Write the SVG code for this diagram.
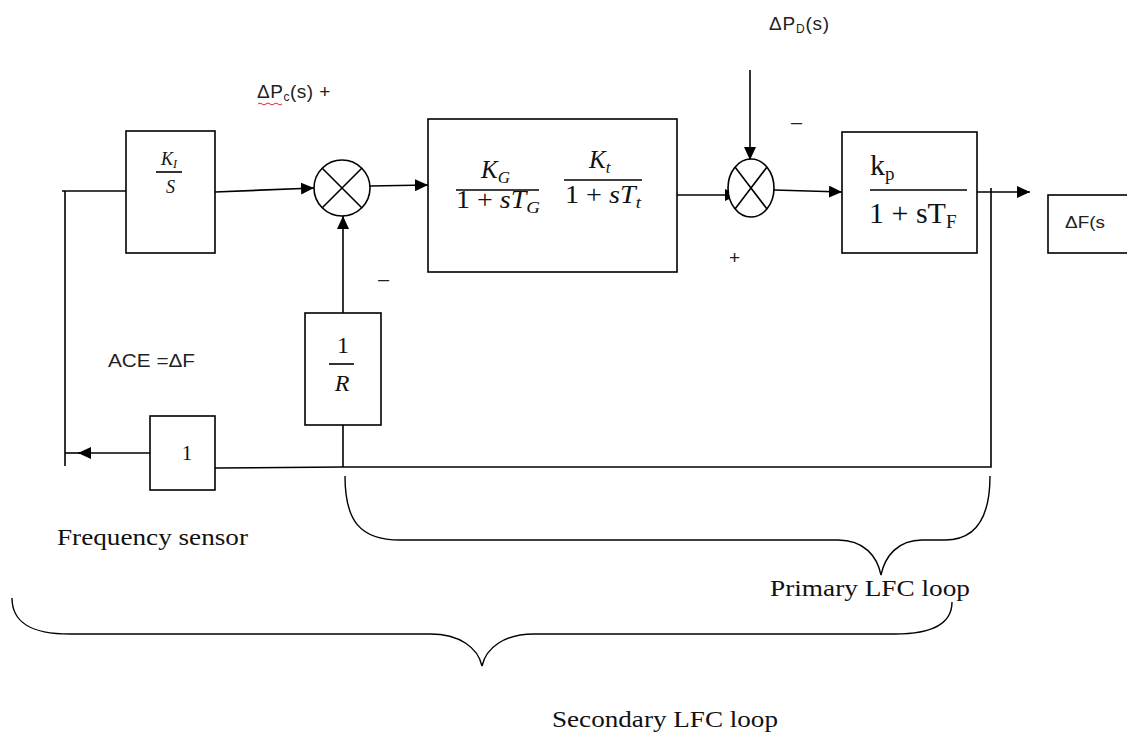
<svg xmlns="http://www.w3.org/2000/svg" width="1127" height="736" viewBox="0 0 1127 736">
<defs>
<marker id="arr" markerUnits="userSpaceOnUse" markerWidth="14" markerHeight="12" refX="13" refY="6" orient="auto">
<path d="M0,0 L13,6 L0,12 z" fill="#000"/>
</marker>
<style>
.box{fill:#fff;stroke:#000;stroke-width:1.6}
.ln{fill:none;stroke:#000;stroke-width:1.6}
.arr{fill:none;stroke:#000;stroke-width:1.6;marker-end:url(#arr)}
.brace{fill:none;stroke:#000;stroke-width:1.4}
.sans{font-family:"Liberation Sans","Open Sans",sans-serif;fill:#222}
.serif{font-family:"Liberation Serif","DejaVu Serif",serif;fill:#111}
.math{font-family:"Liberation Serif","DejaVu Serif",serif;fill:#111;font-style:italic}
</style>
</defs>
<rect width="1127" height="736" fill="#fff"/>

<g id="connectors">
<path class="ln" d="M62,191 L126,191"/>
<path class="ln" d="M65,191 L65,466"/>
<path class="arr" d="M215,192 L314,188"/>
<path class="arr" d="M343,313 L343,216"/>
<path class="arr" d="M370,186 L428,185"/>
<path class="arr" d="M677,195 L738,195"/>
<path class="arr" d="M750,70 L750,160"/>
<path class="arr" d="M774,190 L842,192"/>
<path class="arr" d="M977,192 L1030,192"/>
<path class="ln" d="M991,188 L991,467 L343,467 L215,468"/>
<path class="ln" d="M343,425 L343,467"/>
<path class="arr" d="M150,453 L78,453"/>
<path class="ln" d="M80,453 L65,453"/>
</g>

<g id="ki">
<rect class="box" x="126" y="131" width="89" height="122"/>
<text class="math" x="161" y="165" font-size="18">K<tspan font-size="12" dy="3">I</tspan></text>
<path class="ln" d="M156,172 L182,172" stroke-width="1.3"/>
<text class="math" x="166" y="193" font-size="18">S</text>
</g>

<g id="sum1">
<circle class="box" cx="342" cy="188" r="28"/>
<path class="ln" d="M322,168 L362,208 M362,168 L322,208" stroke-width="1.3"/>
</g>

<g id="gov">
<rect class="box" x="428" y="119" width="249" height="153"/>
<text class="math" x="481" y="178" font-size="25">K<tspan font-size="17" dy="5">G</tspan></text>
<path class="ln" d="M456,190 L539,190" stroke-width="1.4"/>
<text class="math" x="456" y="208" font-size="25" textLength="84" lengthAdjust="spacingAndGlyphs"><tspan font-style="normal">1 + </tspan>sT<tspan font-size="17" dy="5">G</tspan></text>
<text class="math" x="589" y="168" font-size="25">K<tspan font-size="17" dy="5">t</tspan></text>
<path class="ln" d="M564,180 L642,180" stroke-width="1.4"/>
<text class="math" x="565" y="203" font-size="25" textLength="76" lengthAdjust="spacingAndGlyphs"><tspan font-style="normal">1 + </tspan>sT<tspan font-size="17" dy="5">t</tspan></text>
</g>

<g id="sum2">
<ellipse class="box" cx="751" cy="188" rx="23" ry="29"/>
<path class="ln" d="M735,167 L767,209 M767,167 L735,209" stroke-width="1.3"/>
</g>

<g id="plant">
<rect class="box" x="842" y="132" width="135" height="121"/>
<text class="serif" x="870" y="175" font-size="30">k<tspan font-size="19" dy="5">p</tspan></text>
<path class="ln" d="M870,190 L967,190" stroke-width="1.4"/>
<text class="serif" x="869" y="223" font-size="30">1 + sT<tspan font-size="19" dy="5">F</tspan></text>
</g>

<g id="out">
<rect class="box" x="1048" y="195" width="82" height="58"/>
<text class="sans" x="1065" y="228" font-size="17" textLength="40" lengthAdjust="spacingAndGlyphs">ΔF(s</text>
</g>

<g id="invr">
<rect class="box" x="305" y="313" width="76" height="112"/>
<text class="serif" x="343" y="353" font-size="24" text-anchor="middle">1</text>
<path class="ln" d="M329,364 L354,364" stroke-width="1.3"/>
<text class="math" x="342" y="391" font-size="24" text-anchor="middle">R</text>
</g>

<g id="sensor">
<rect class="box" x="150" y="416" width="65" height="74"/>
<text class="serif" x="187" y="460" font-size="21" text-anchor="middle">1</text>
</g>

<g id="labels">
<text class="sans" x="257" y="98" font-size="19" letter-spacing="0.5">ΔP<tspan font-size="12" dy="3">c</tspan><tspan dy="-3">(s)  +</tspan></text>
<path d="M258,104 q2,-2 4,0 t4,0 t4,0 t4,0 t4,0 t4,0" fill="none" stroke="#d23" stroke-width="1"/>
<text class="sans" x="769" y="30" font-size="19" letter-spacing="0.8">ΔP<tspan font-size="12" dy="3">D</tspan><tspan dy="-3">(s)</tspan></text>
<text class="sans" x="108" y="367" font-size="18" textLength="87" lengthAdjust="spacingAndGlyphs">ACE =ΔF</text>
<text class="sans" x="378" y="286" font-size="20">–</text>
<text class="sans" x="791" y="129" font-size="20">–</text>
<text class="sans" x="729" y="264" font-size="19">+</text>
<text class="serif" x="57" y="545" font-size="24" textLength="191" lengthAdjust="spacingAndGlyphs">Frequency sensor</text>
<text class="serif" x="770" y="596" font-size="24" textLength="200" lengthAdjust="spacingAndGlyphs">Primary LFC loop</text>
<text class="serif" x="552" y="727" font-size="24" textLength="226" lengthAdjust="spacingAndGlyphs">Secondary LFC loop</text>
</g>

<g id="braces">
<path class="brace" d="M345,476 C345,521 360,540 400,540 L838,540 C864,540 877,556 881,575 C885,556 898,540 922,540 L945,540 C975,540 990,518 990,476"/>
<path class="brace" d="M12,598 C12,622 30,634 70,634 L430,634 C460,634 478,648 482,666 C486,648 504,634 534,634 L895,634 C935,634 952,622 952,602"/>
</g>
</svg>
